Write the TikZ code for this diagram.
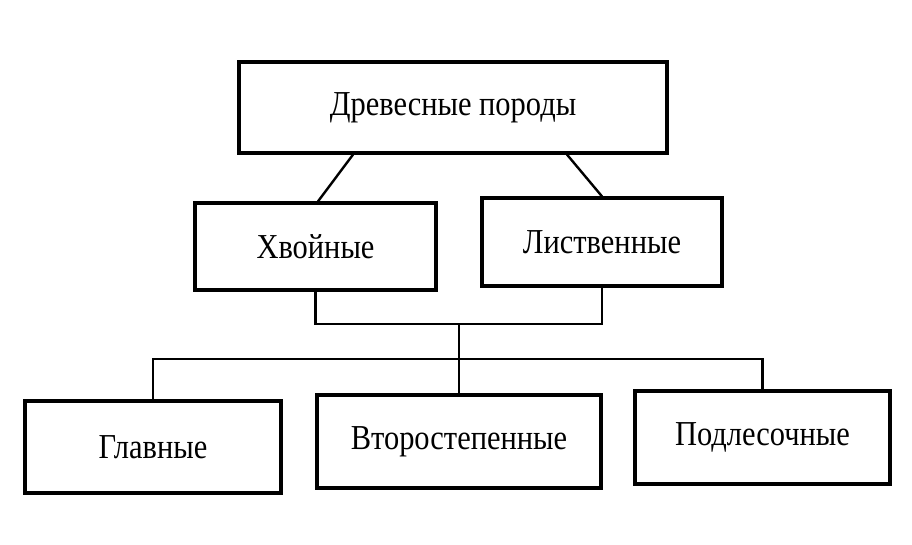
\documentclass[tikz,border=0pt]{standalone}
\usepackage{fontspec}
\setmainfont{Liberation Serif}
\usepackage{graphicx}
\newcommand{\condtext}[1]{\scalebox{0.87}[1]{#1}}
\begin{document}
\begin{tikzpicture}[x=1pt,y=-1pt,
  box/.style={draw, line width=3.2pt, inner sep=0pt, font=\fontsize{35}{40}\selectfont},
  conn/.style={line width=2.4pt}]
\useasboundingbox[fill=white] (0,0) rectangle (912,545);
% level 1
\node[box, minimum width=428pt, minimum height=91pt] (top) at (453,107.5) {\condtext{Древесные породы}};
% level 2
\node[box, minimum width=241pt, minimum height=87pt] (xv) at (315.5,246.5) {\condtext{Хвойные}};
\node[box, minimum width=240pt, minimum height=88pt] (lv) at (602,242) {\condtext{Лиственные}};
% level 3
\node[box, minimum width=256pt, minimum height=92pt] (gl) at (153,447) {\condtext{Главные}};
\node[box, minimum width=284pt, minimum height=93pt] (vt) at (459,441.5) {\condtext{Второстепенные}};
\node[box, minimum width=255pt, minimum height=93pt] (pd) at (762.5,437.5) {\condtext{Подлесочные}};
% junctions
\coordinate (j) at (459,324);
\coordinate (k) at (459,359);
% connectors
\draw[conn] ([xshift=-100pt]top.south) -- ([xshift=2.5pt]xv.north);
\draw[conn] ([xshift=114pt]top.south) -- (lv.north);
\draw[conn] (xv.south) |- (j) -| (lv.south);
\draw[conn] (j) -- (vt.north);
\draw[conn] (gl.north) |- (k) -| (pd.north);
\end{tikzpicture}
\end{document}
